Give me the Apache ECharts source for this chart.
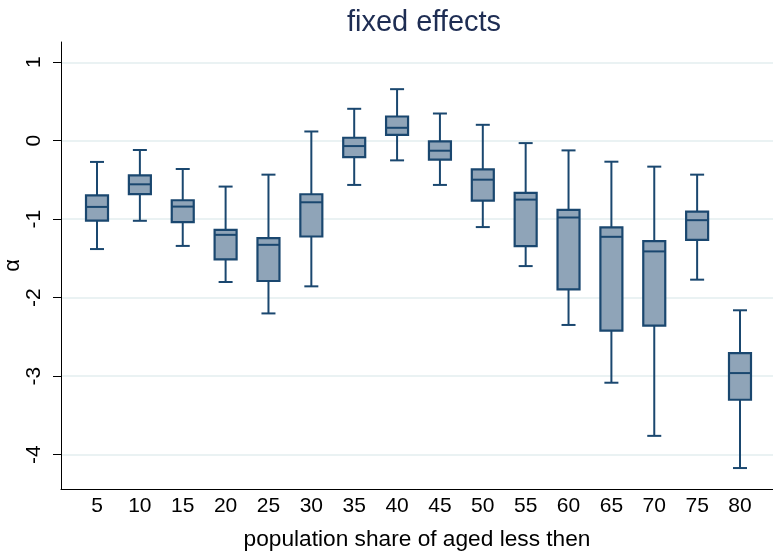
<!DOCTYPE html>
<html>
<head>
<meta charset="utf-8">
<title>fixed effects</title>
<script src="https://cdn.jsdelivr.net/npm/echarts@6/dist/echarts.min.js"></script>
<style>
  html, body { margin: 0; padding: 0; background: #ffffff; }
  #chart { width: 773px; height: 552px; }
</style>
</head>
<body>
<div id="chart"></div>
<script>
// Population share thresholds (x positions of the boxes)
const shares = [5, 10, 15, 20, 25, 30, 35, 40, 45, 50, 55, 60, 65, 70, 75, 80];

// Five-number summaries of the estimated alpha per threshold
const whiskerLow  = [-1.38, -1.02, -1.34, -1.80, -2.20, -1.855, -0.563, -0.25, -0.563, -1.10, -1.597, -2.347, -3.083, -3.76, -1.77, -4.17];
const quartile1   = [-1.017, -0.68, -1.038, -1.512, -1.787, -1.22, -0.208, 0.076, -0.241, -0.762, -1.343, -1.893, -2.418, -2.355, -1.262, -3.30];
const medians     = [-0.843, -0.555, -0.839, -1.199, -1.326, -0.784, -0.068, 0.165, -0.127, -0.496, -0.75, -0.978, -1.224, -1.41, -1.012, -2.96];
const quartile3   = [-0.695, -0.44, -0.758, -1.135, -1.241, -0.682, 0.038, 0.309, -0.008, -0.364, -0.665, -0.881, -1.105, -1.279, -0.902, -2.706];
const whiskerHigh = [-0.27, -0.118, -0.36, -0.584, -0.432, 0.118, 0.407, 0.657, 0.347, 0.203, -0.03, -0.123, -0.267, -0.33, -0.432, -2.16];

// Axis tick labels
const xTickValues = [5, 10, 15, 20, 25, 30, 35, 40, 45, 50, 55, 60, 65, 70, 75, 80];
const yTickValues = [-4, -3, -2, -1, 0, 1];

const NAVY = '#1a476f';
const FILL = '#8fa4b8';
const GRID = '#eaf2f3';
const FONT = '"Liberation Sans", Arial, Helvetica, sans-serif';

const rows = shares.map((s, i) => [s, whiskerLow[i], quartile1[i], medians[i], quartile3[i], whiskerHigh[i]]);

const chart = echarts.init(document.getElementById('chart'), null, { renderer: 'canvas' });

// One box: whiskers with caps, the interquartile box and the median bar
function renderBox(params, api) {
  const x = api.value(0);
  const at = v => api.coord([x, v]);
  const lo = at(api.value(1));
  const b1 = at(api.value(2));
  const md = at(api.value(3));
  const b3 = at(api.value(4));
  const hi = at(api.value(5));
  const cx = lo[0];
  const halfBox = 11;
  const halfCap = 7;
  const stroke = { stroke: NAVY, lineWidth: 2, fill: null };
  return {
    type: 'group',
    children: [
      { type: 'line', shape: { x1: cx, y1: hi[1], x2: cx, y2: b3[1] }, style: stroke },
      { type: 'line', shape: { x1: cx, y1: b1[1], x2: cx, y2: lo[1] }, style: stroke },
      { type: 'line', shape: { x1: cx - halfCap, y1: hi[1], x2: cx + halfCap, y2: hi[1] }, style: stroke },
      { type: 'line', shape: { x1: cx - halfCap, y1: lo[1], x2: cx + halfCap, y2: lo[1] }, style: stroke },
      {
        type: 'rect',
        shape: { x: cx - halfBox, y: b3[1], width: halfBox * 2, height: b1[1] - b3[1] },
        style: { fill: FILL, stroke: NAVY, lineWidth: 2.2 }
      },
      { type: 'line', shape: { x1: cx - halfBox, y1: md[1], x2: cx + halfBox, y2: md[1] }, style: stroke }
    ]
  };
}

chart.setOption({
  animation: false,
  backgroundColor: '#ffffff',
  title: {
    text: 'fixed effects',
    left: 419,
    top: 3,
    textAlign: 'center',
    textStyle: { color: '#1e2d53', fontSize: 29, fontWeight: 'normal', fontFamily: FONT }
  },
  grid: { left: 61, right: 0, top: 42, bottom: 63, containLabel: false, outerBoundsMode: 'none' },
  xAxis: {
    type: 'value',
    min: 0.8,
    max: 83.85,
    name: 'population share of aged less then',
    nameLocation: 'middle',
    nameGap: 39,
    nameMoveOverlap: false,
    nameTextStyle: { color: '#000', fontSize: 22.7, fontFamily: FONT },
    axisLine: { show: true, onZero: false, lineStyle: { color: '#000', width: 1 } },
    axisTick: { show: false },
    axisLabel: { customValues: xTickValues, color: '#000', fontSize: 21, fontFamily: FONT, margin: 7 },
    splitLine: { show: false }
  },
  yAxis: {
    type: 'value',
    min: -4.437,
    max: 1.258,
    name: 'α',
    nameLocation: 'middle',
    nameRotate: 90,
    nameGap: 37,
    nameMoveOverlap: false,
    nameTextStyle: { color: '#000', fontSize: 22, fontFamily: FONT },
    axisLine: { show: true, onZero: false, lineStyle: { color: '#000', width: 1 } },
    axisTick: { show: true, customValues: yTickValues, length: 8, lineStyle: { color: '#000', width: 1 } },
    axisLabel: { customValues: yTickValues, rotate: 90, color: '#000', fontSize: 21, fontFamily: FONT, margin: 16 },
    splitLine: { show: true, lineStyle: { color: GRID, width: 2 } }
  },
  series: [{
    type: 'custom',
    renderItem: renderBox,
    encode: { x: 0, y: [1, 2, 3, 4, 5] },
    data: rows,
    z: 5
  }]
});
</script>
</body>
</html>
